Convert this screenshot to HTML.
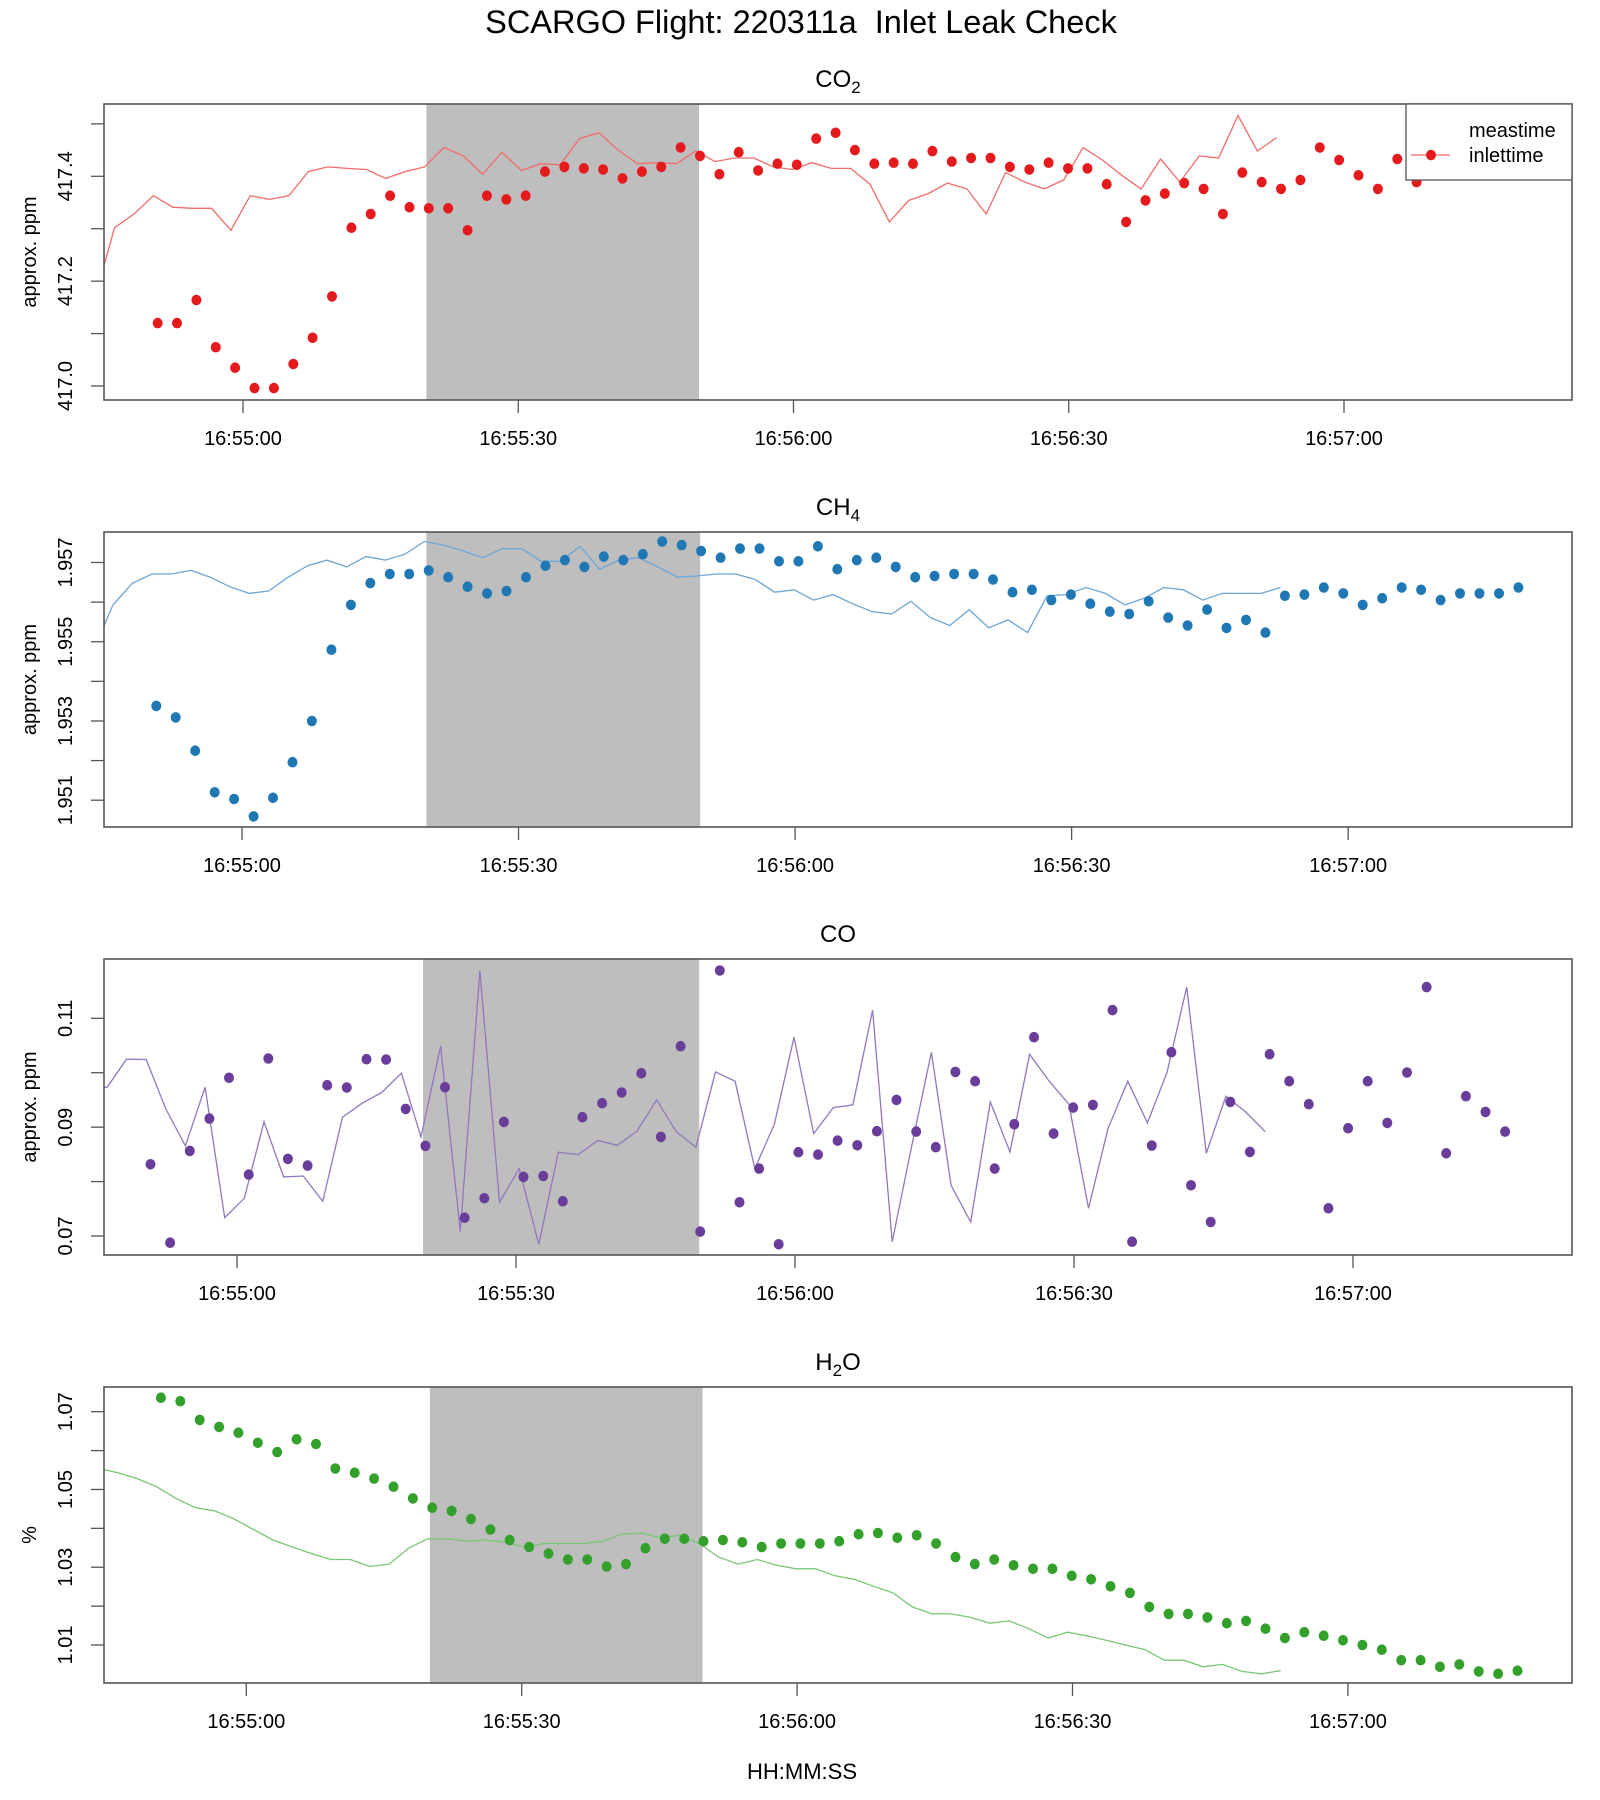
<!DOCTYPE html>
<html><head><meta charset="utf-8">
<style>
html,body{margin:0;padding:0;background:#fff;}
svg{display:block;font-family:"Liberation Sans",Arial,sans-serif;}
</style></head>
<body>
<svg id="chart" width="1600" height="1800" viewBox="0 0 1600 1800" xmlns="http://www.w3.org/2000/svg">
<text x="801" y="33" font-size="32.5" text-anchor="middle" fill="#000" style="white-space:pre">SCARGO Flight: 220311a&#160; Inlet Leak Check</text>
<text x="802" y="1779" font-size="22" text-anchor="middle" fill="#000">HH:MM:SS</text>
</svg>
<script>
// ---- data (seconds relative to 16:55:00) ----
const sampleStart = -9.3;
const sampleStep = 2.111;
const measLag = 25.8;
const shadeStart = 20.0;
const shadeEnd = 49.7;
const xTickSeconds = [0, 30, 60, 90, 120];
const xTickLabels = ["16:55:00", "16:55:30", "16:56:00", "16:56:30", "16:57:00"];

const co2Values = [417.120,417.120,417.164,417.074,417.035,416.996,416.996,417.042,417.092,417.171,
417.302,417.328,417.363,417.341,417.339,417.339,417.297,417.363,417.356,417.363,
417.409,417.418,417.415,417.413,417.396,417.409,417.418,417.455,417.439,417.404,
417.446,417.411,417.424,417.422,417.472,417.483,417.450,417.424,417.426,417.424,
417.448,417.428,417.435,417.435,417.418,417.413,417.426,417.415,417.415,417.385,
417.313,417.354,417.367,417.387,417.376,417.328,417.407,417.389,417.376,417.393,
417.455,417.431,417.402,417.376,417.433,417.389,417.439,417.435,417.516,417.448,417.474];
const co2Ticks = [417.0,417.1,417.2,417.3,417.4,417.5];
const co2TickLabels = ["417.0","","417.2","","417.4",""];

const ch4Values = [1.95338,1.95309,1.95225,1.95120,1.95103,1.95059,1.95106,1.95196,1.95300,1.95480,
1.95593,1.95648,1.95671,1.95671,1.95680,1.95663,1.95639,1.95622,1.95628,1.95663,
1.95692,1.95706,1.95689,1.95715,1.95706,1.95721,1.95753,1.95744,1.95729,1.95712,
1.95735,1.95735,1.95703,1.95703,1.95741,1.95683,1.95706,1.95712,1.95689,1.95663,
1.95666,1.95671,1.95671,1.95657,1.95625,1.95631,1.95605,1.95619,1.95596,1.95576,
1.95570,1.95602,1.95561,1.95541,1.95581,1.95535,1.95555,1.95523,1.95616,1.95619,
1.95637,1.95622,1.95593,1.95610,1.95637,1.95631,1.95605,1.95622,1.95622,1.95622,1.95637];
const ch4Ticks = [1.951,1.952,1.953,1.954,1.955,1.956,1.957];
const ch4TickLabels = ["1.951","","1.953","","1.955","","1.957"];

const coValues = [0.08318,0.06877,0.08563,0.09158,0.09906,0.08128,0.10261,0.08416,0.08293,0.09771,
0.09728,0.10249,0.10243,0.09336,0.08655,0.09734,0.07337,0.07693,0.09096,0.08085,
0.08103,0.07638,0.09182,0.09440,0.09636,0.09991,0.08821,0.10488,0.07080,0.11879,
0.07619,0.08238,0.06847,0.08539,0.08496,0.08753,0.08667,0.08925,0.09501,0.08919,
0.08631,0.10016,0.09844,0.08238,0.09054,0.10653,0.08882,0.09360,0.09409,0.11150,
0.06896,0.08661,0.10378,0.07932,0.07257,0.09464,0.08545,0.10341,0.09844,0.09421,
0.07509,0.08980,0.09844,0.09078,0.10004,0.11573,0.08520,0.09568,0.09280,0.08919];
const coTicks = [0.07,0.08,0.09,0.10,0.11];
const coTickLabels = ["0.07","","0.09","","0.11"];

const h2oValues = [1.0736,1.0727,1.0679,1.0661,1.0646,1.0620,1.0596,1.0629,1.0617,1.0554,
1.0543,1.0528,1.0507,1.0477,1.0453,1.0445,1.0424,1.0397,1.0370,1.0352,
1.0335,1.0320,1.0320,1.0302,1.0308,1.0349,1.0373,1.0373,1.0367,1.0370,
1.0364,1.0352,1.0361,1.0361,1.0361,1.0367,1.0385,1.0388,1.0376,1.0382,
1.0361,1.0326,1.0308,1.0320,1.0305,1.0296,1.0296,1.0278,1.0269,1.0251,
1.0234,1.0198,1.0180,1.0180,1.0171,1.0156,1.0162,1.0142,1.0118,1.0133,
1.0124,1.0112,1.0100,1.0088,1.0061,1.0061,1.0044,1.0050,1.0032,1.0026,1.0034];
const h2oTicks = [1.01,1.02,1.03,1.04,1.05,1.06,1.07];
const h2oTickLabels = ["1.01","","1.03","","1.05","","1.07"];

// ---- layout ----
const svg = document.getElementById('chart');
const NS = 'http://www.w3.org/2000/svg';
function mk(tag, attrs, parent) {
  const e = document.createElementNS(NS, tag);
  for (const k in attrs) e.setAttribute(k, attrs[k]);
  (parent || svg).appendChild(e);
  return e;
}
const boxLeft = 104, boxRight = 1572;
const panels = [
  {key:'co2', values:co2Values, ticks:co2Ticks, labels:co2TickLabels, top:104, bottom:400,
   yA:[417.0,386], yB:[417.4,176.3], xOrigin:243, pxPerSec:9.175,
   dot:'#E41A1C', line:'#F26B6B', ylab:'approx. ppm', titleMain:'CO', titleSub:'2', titleAfter:'', legend:true},
  {key:'ch4', values:ch4Values, ticks:ch4Ticks, labels:ch4TickLabels, top:532, bottom:827,
   yA:[1.951,800.2], yB:[1.957,562.5], xOrigin:242, pxPerSec:9.218,
   dot:'#1F78B4', line:'#6CA6D6', ylab:'approx. ppm', titleMain:'CH', titleSub:'4', titleAfter:''},
  {key:'co', values:coValues, ticks:coTicks, labels:coTickLabels, top:959, bottom:1255,
   yA:[0.07,1236], yB:[0.11,1018.3], xOrigin:237, pxPerSec:9.30,
   dot:'#6A3D9A', line:'#9277BE', ylab:'approx. ppm', titleMain:'CO', titleSub:'', titleAfter:''},
  {key:'h2o', values:h2oValues, ticks:h2oTicks, labels:h2oTickLabels, top:1387, bottom:1683,
   yA:[1.01,1645], yB:[1.07,1411.7], xOrigin:246.3, pxPerSec:9.18,
   dot:'#33A02C', line:'#78C775', ylab:'%', titleMain:'H', titleSub:'2', titleAfter:'O'}
];

panels.forEach((p, pi) => {
  const xs = t => p.xOrigin + t * p.pxPerSec;
  const ys = v => p.yA[1] + (v - p.yA[0]) * (p.yB[1] - p.yA[1]) / (p.yB[0] - p.yA[0]);
  const g = mk('g', {});
  
  

  const cp = mk('clipPath', {id: 'clip' + pi}, g);
  mk('rect', {x: boxLeft, y: p.top, width: boxRight - boxLeft, height: p.bottom - p.top}, cp);

  const sh = mk('rect', {x: xs(shadeStart), y: p.top, width: xs(shadeEnd) - xs(shadeStart), height: p.bottom - p.top, fill: '#BEBEBE'}, g);
  
  

  let d = '';
  p.values.forEach((v, i) => {
    const t = sampleStart + i * sampleStep - measLag;
    d += (i ? 'L' : 'M') + xs(t).toFixed(1) + ',' + ys(v).toFixed(1);
  });
  const ln = mk('path', {d: d, fill: 'none', stroke: p.line, 'stroke-width': 1.3, 'clip-path': 'url(#clip' + pi + ')'}, g);
  
  

  const dg = mk('g', {'clip-path': 'url(#clip' + pi + ')'}, g);
  
  
  p.values.forEach((v, i) => {
    const t = sampleStart + i * sampleStep;
    const c = mk('ellipse', {cx: xs(t).toFixed(1), cy: ys(v).toFixed(1), rx: 5, ry: 5.3, fill: p.dot}, dg);
    
    
  });

  const bx = mk('rect', {x: boxLeft, y: p.top, width: boxRight - boxLeft, height: p.bottom - p.top, fill: 'none', stroke: '#555', 'stroke-width': 1.6}, g);
  
  

  xTickSeconds.forEach((s, i) => {
    const x = xs(s);
    const tk = mk('line', {x1: x, x2: x, y1: p.bottom, y2: p.bottom + 13, stroke: '#555', 'stroke-width': 1.3}, g);
    
    
    const tl = mk('text', {x: x, y: p.bottom + 45, 'font-size': 20, 'text-anchor': 'middle', fill: '#000'}, g);
    tl.textContent = xTickLabels[i];
    
    
  });

  p.ticks.forEach((v, i) => {
    const y = ys(v);
    const tk = mk('line', {x1: boxLeft - 13, x2: boxLeft, y1: y, y2: y, stroke: '#555', 'stroke-width': 1.3}, g);
    
    
    if (p.labels[i]) {
      const tl = mk('text', {x: 0, y: 0, 'font-size': 20, 'text-anchor': 'middle', fill: '#000', transform: 'translate(72,' + y.toFixed(1) + ') rotate(-90)'}, g);
      tl.textContent = p.labels[i];
      
      
    }
  });
  const yt = mk('text', {x: 0, y: 0, 'font-size': 20, 'text-anchor': 'middle', fill: '#000', transform: 'translate(36,' + ((p.top + p.bottom) / 2) + ') rotate(-90)'}, g);
  yt.textContent = p.ylab;
  
  

  const tt = mk('text', {x: 838, y: p.top - 17, 'font-size': 24, 'text-anchor': 'middle', fill: '#000'}, g);
  
  
  const s1 = mk('tspan', {}, tt); s1.textContent = p.titleMain;
  if (p.titleSub) { const s2 = mk('tspan', {dy: 6, 'font-size': 17}, tt); s2.textContent = p.titleSub; }
  if (p.titleAfter) { const s3 = mk('tspan', {dy: -6}, tt); s3.textContent = p.titleAfter; }

  if (p.legend) {
    const lg = mk('g', {}, g);
    
    
    mk('rect', {x: 1406, y: p.top, width: boxRight - 1406, height: 76, fill: '#fff', stroke: '#555', 'stroke-width': 1.3}, lg);
    const t1 = mk('text', {x: 1469, y: 137, 'font-size': 20, fill: '#000'}, lg);
    t1.textContent = 'meastime';
    
    
    mk('line', {x1: 1411, x2: 1450, y1: 155, y2: 155, stroke: p.line, 'stroke-width': 1.3}, lg);
    mk('ellipse', {cx: 1431, cy: 155, rx: 5, ry: 5.3, fill: p.dot}, lg);
    const t2 = mk('text', {x: 1469, y: 162, 'font-size': 20, fill: '#000'}, lg);
    t2.textContent = 'inlettime';
    
    
  }
});
</script>
</body></html>
